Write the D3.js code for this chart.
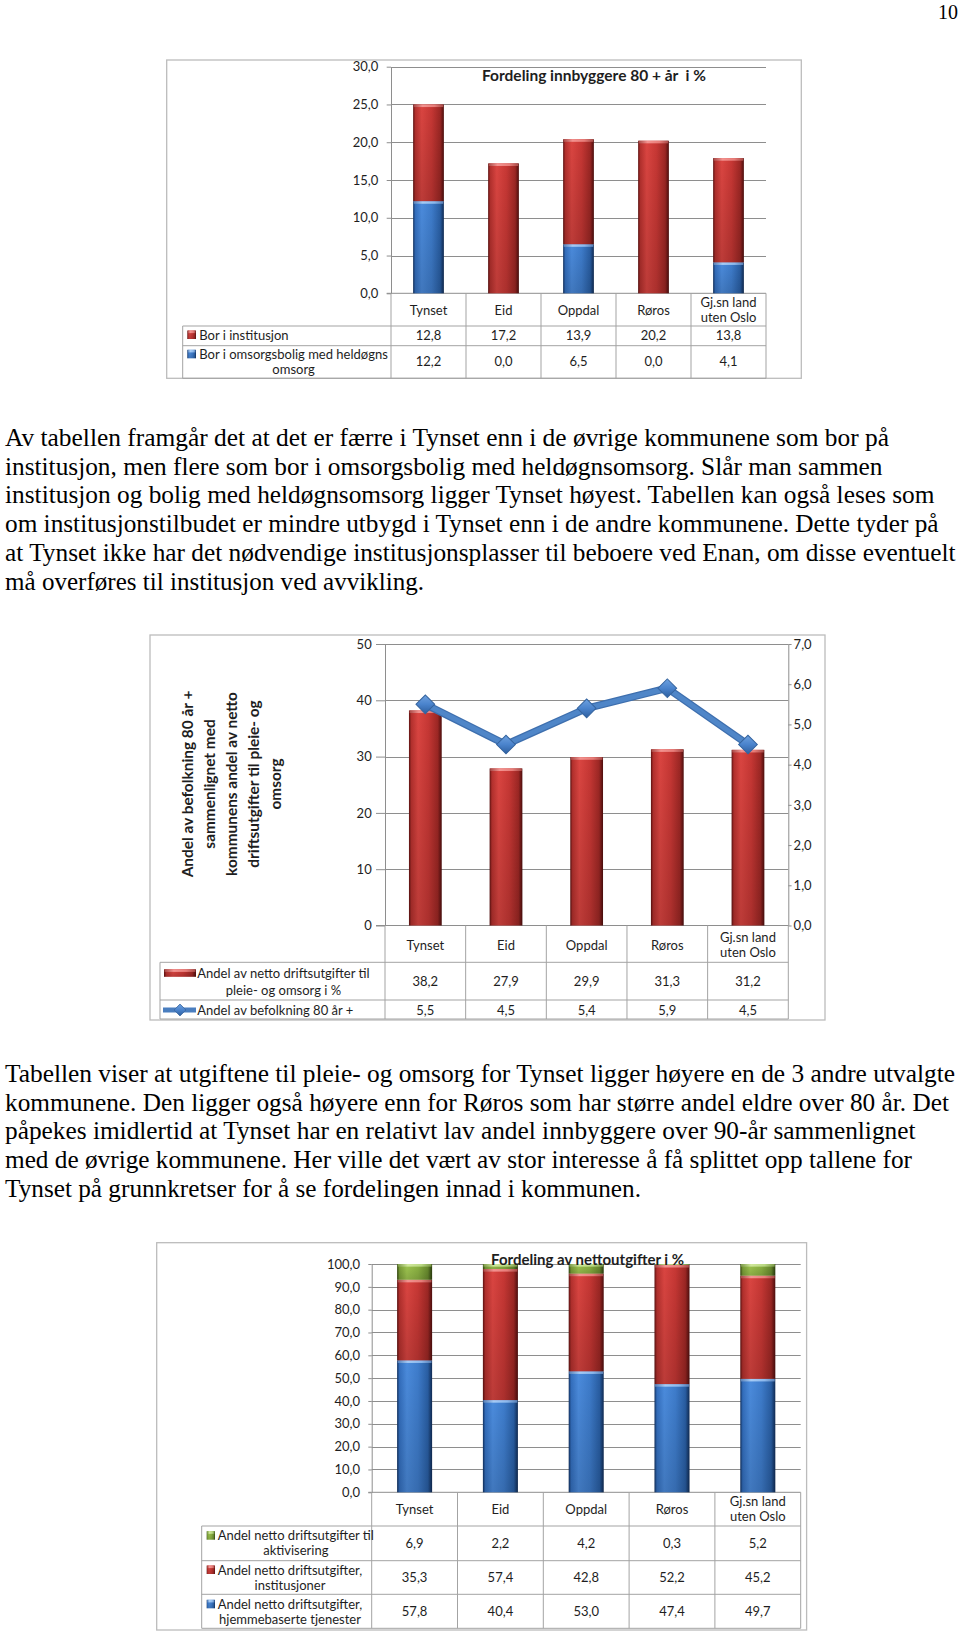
<!DOCTYPE html>
<html><head><meta charset="utf-8">
<script src="https://cdn.jsdelivr.net/npm/d3@7"></script>
<style>
html,body{margin:0;padding:0;background:#fff;}
svg{display:block;}
</style></head>
<body>
<svg id="page" width="960" height="1632"></svg>
<script>
// ================= DATA =================
const categories = ["Tynset","Eid","Oppdal","Røros","Gj.sn land uten Oslo"];
const categoryLabelLines = [["Tynset"],["Eid"],["Oppdal"],["Røros"],["Gj.sn land","uten Oslo"]];

// Chart 1
const c1Title = "Fordeling innbyggere 80 + år  i %";
const c1Institusjon = [12.8, 17.2, 13.9, 20.2, 13.8];
const c1Omsorgsbolig = [12.2, 0.0, 6.5, 0.0, 4.1];
const c1InstitusjonName = ["Bor i institusjon"];
const c1OmsorgsboligName = ["Bor i omsorgsbolig med heldøgns", "omsorg"];
const c1Ticks = [0, 5, 10, 15, 20, 25, 30];

// Chart 2
const c2Driftsutgifter = [38.2, 27.9, 29.9, 31.3, 31.2];
const c2Befolkning80 = [5.5, 4.5, 5.4, 5.9, 4.5];
const c2DriftsutgifterName = ["Andel av netto driftsutgifter til", "pleie- og omsorg i %"];
const c2Befolkning80Name = ["Andel av befolkning 80 år +"];
const c2LeftTicks = [0, 10, 20, 30, 40, 50];
const c2RightTicks = [0, 1, 2, 3, 4, 5, 6, 7];
const c2AxisTitle = ["Andel av befolkning 80 år +", "sammenlignet med", "kommunens andel av netto", "driftsutgifter til pleie- og", "omsorg"];

// Chart 3
const c3Title = "Fordeling av nettoutgifter i %";
const c3Aktivisering = [6.9, 2.2, 4.2, 0.3, 5.2];
const c3Institusjoner = [35.3, 57.4, 42.8, 52.2, 45.2];
const c3Hjemmebaserte = [57.8, 40.4, 53.0, 47.4, 49.7];
const c3AktiviseringName = ["Andel netto driftsutgifter til", "aktivisering"];
const c3InstitusjonerName = ["Andel netto driftsutgifter,", "institusjoner"];
const c3HjemmebaserteName = ["Andel netto driftsutgifter,", "hjemmebaserte tjenester"];
const c3Ticks = [0, 10, 20, 30, 40, 50, 60, 70, 80, 90, 100];

// Page text
const pageNumber = "10";
const para1 = [
  "Av tabellen framgår det at det er færre i Tynset enn i de øvrige kommunene som bor på",
  "institusjon, men flere som bor i omsorgsbolig med heldøgnsomsorg. Slår man sammen",
  "institusjon og bolig med heldøgnsomsorg ligger Tynset høyest. Tabellen kan også leses som",
  "om institusjonstilbudet er mindre utbygd i Tynset enn i de andre kommunene. Dette tyder på",
  "at Tynset ikke har det nødvendige institusjonsplasser til beboere ved Enan, om disse eventuelt",
  "må overføres til institusjon ved avvikling."
];
const para2 = [
  "Tabellen viser at utgiftene til pleie- og omsorg for Tynset ligger høyere en de 3 andre utvalgte",
  "kommunene. Den ligger også høyere enn for Røros som har større andel eldre over 80 år. Det",
  "påpekes imidlertid at Tynset har en relativt lav andel innbyggere over 90-år sammenlignet",
  "med de øvrige kommunene. Her ville det vært av stor interesse å få splittet opp tallene for",
  "Tynset på grunnkretser for å se fordelingen innad i kommunen."
];

// ================= LAYOUT =================
const para1Layout = {x: 5, y0: 446, dy: 28.7, ends: [889, 882.5, 934.5, 938.5, 955.5, 424]};
const para2Layout = {x: 5, y0: 1081.7, dy: 28.8, ends: [955, 949, 915.5, 912, 641]};

const FONT = "Lato, 'Open Sans', sans-serif";
const SERIF = "'Liberation Serif', 'Times New Roman', serif";
const FS = 13;
const TXT = "#1e1e1e";
const GRID = "#8e8e8e";
const TLINE = "#a3a3a3";
const FRAME = "#bcbcbc";

const nf = d3.formatLocale({decimal: ",", thousands: "\u00a0", grouping: [3], currency: ["", " kr"]});
const f1 = nf.format(".1f");
const f0 = nf.format("d");

const svg = d3.select("#page");
const defs = svg.append("defs");

function hGrad(id, stops) {
  const g = defs.append("linearGradient").attr("id", id).attr("x1", 0).attr("x2", 1).attr("y1", 0).attr("y2", 0);
  stops.forEach(([o, c]) => g.append("stop").attr("offset", o).attr("stop-color", c));
}
hGrad("gRed", [[0, "#5e1211"], [0.07, "#b3302d"], [0.28, "#da4541"], [0.6, "#c63734"], [0.88, "#9c2724"], [1, "#4e0e0d"]]);
hGrad("gRedCap", [[0, "#a84a47"], [0.3, "#f39390"], [0.7, "#e77d79"], [1, "#a84a47"]]);
hGrad("gBlue", [[0, "#123262"], [0.07, "#336ebd"], [0.28, "#4b8bdc"], [0.6, "#3e7ccb"], [0.88, "#295ea3"], [1, "#102b54"]]);
hGrad("gBlueCap", [[0, "#5a82b8"], [0.3, "#a6cbf5"], [0.7, "#8cb8ec"], [1, "#5a82b8"]]);
hGrad("gGreen", [[0, "#354a10"], [0.07, "#7b9f38"], [0.28, "#9fc650"], [0.6, "#8cb343"], [0.88, "#688a2e"], [1, "#2c3e0e"]]);
hGrad("gGreenCap", [[0, "#7c9a4a"], [0.3, "#cfe79a"], [0.7, "#b9d883"], [1, "#7c9a4a"]]);
(function () {
  const g = defs.append("linearGradient").attr("id", "gShade").attr("x1", 0).attr("x2", 0).attr("y1", 0).attr("y2", 1);
  g.append("stop").attr("offset", 0).attr("stop-color", "#000").attr("stop-opacity", 0);
  g.append("stop").attr("offset", 1).attr("stop-color", "#000").attr("stop-opacity", 0.14);
  const d = defs.append("linearGradient").attr("id", "gDiamond").attr("x1", 0).attr("x2", 1).attr("y1", 0).attr("y2", 1);
  d.append("stop").attr("offset", 0).attr("stop-color", "#6fa2e0");
  d.append("stop").attr("offset", 0.5).attr("stop-color", "#4a83cc");
  d.append("stop").attr("offset", 1).attr("stop-color", "#2e5f9f");
})();

const GRADS = {red: ["gRed", "gRedCap"], blue: ["gBlue", "gBlueCap"], green: ["gGreen", "gGreenCap"]};

function segment(g, x, w, yTop, yBot, color) {
  const h = yBot - yTop;
  if (h < 0.3) return;
  g.append("rect").attr("x", x).attr("y", yTop).attr("width", w).attr("height", h).attr("fill", `url(#${GRADS[color][0]})`);
  g.append("rect").attr("x", x).attr("y", yTop).attr("width", w).attr("height", h).attr("fill", "url(#gShade)");
  g.append("rect").attr("x", x + 0.6).attr("y", yTop).attr("width", w - 1.2).attr("height", Math.min(2.6, h)).attr("fill", `url(#${GRADS[color][1]})`);
}

function setupChart(cfg) {
  const g = svg.append("g");
  g.append("rect").attr("x", cfg.frame[0]).attr("y", cfg.frame[1]).attr("width", cfg.frame[2]).attr("height", cfg.frame[3])
    .attr("fill", "#fff").attr("stroke", FRAME).attr("stroke-width", 1.3);
  const xBand = d3.scaleBand().domain(categories).range([cfg.x0, cfg.x1]).paddingInner(cfg.pin).paddingOuter(cfg.pin / 2);
  const xCol = d3.scaleBand().domain(categories).range([cfg.x0, cfg.x1]);
  const y = d3.scaleLinear().domain([0, cfg.max]).range([cfg.y0, cfg.yTop]);
  g.append("g").selectAll("line").data(cfg.ticks.filter(t => t > 0)).join("line")
    .attr("x1", cfg.x0).attr("x2", cfg.x1)
    .attr("y1", d => Math.round(y(d)) + 0.5).attr("y2", d => Math.round(y(d)) + 0.5)
    .attr("stroke", GRID).attr("stroke-width", 1);
  const ax = g.append("g").attr("transform", `translate(${cfg.x0},0)`)
    .call(d3.axisLeft(y).tickValues(cfg.ticks).tickFormat(cfg.fmt).tickSizeInner(cfg.tickSize).tickSizeOuter(0).tickPadding(cfg.tickPad));
  ax.select(".domain").attr("stroke", GRID);
  ax.selectAll(".tick line").attr("stroke", GRID);
  ax.selectAll(".tick text").attr("font-family", FONT).attr("font-size", FS).attr("fill", TXT);
  g.append("line").attr("x1", cfg.x0 - cfg.tickSize).attr("x2", cfg.x1).attr("y1", cfg.y0).attr("y2", cfg.y0).attr("stroke", GRID);
  return {g, xBand, xCol, y};
}

function drawTable(g, cfg, xCol, rows) {
  const tg = g.append("g");
  const bw = xCol.bandwidth();
  const bounds = categories.map(c => xCol(c)).concat([cfg.x1]);
  const tBottom = cfg.rowBottoms[cfg.rowBottoms.length - 1];
  tg.selectAll("line.v").data(bounds).join("line").attr("class", "v")
    .attr("x1", d => d).attr("x2", d => d).attr("y1", cfg.y0).attr("y2", tBottom).attr("stroke", TLINE);
  tg.append("line").attr("x1", cfg.tLeft).attr("x2", cfg.tLeft).attr("y1", cfg.headerBottom).attr("y2", tBottom).attr("stroke", TLINE);
  tg.selectAll("line.h").data([cfg.headerBottom].concat(cfg.rowBottoms)).join("line").attr("class", "h")
    .attr("x1", cfg.tLeft).attr("x2", cfg.x1).attr("y1", d => d).attr("y2", d => d).attr("stroke", TLINE);
  categories.forEach((c, i) => {
    const lines = categoryLabelLines[i];
    lines.forEach((t, j) => {
      const yc = lines.length === 1 ? cfg.catY : cfg.catY + (j - (lines.length - 1) / 2) * 15;
      tg.append("text").attr("x", xCol(c) + bw / 2).attr("y", yc + 4.5).attr("text-anchor", "middle")
        .attr("font-family", FONT).attr("font-size", FS).attr("fill", TXT).text(t);
    });
  });
  rows.forEach(row => {
    const texts = row.lines.map((t, j) => tg.append("text").attr("x", cfg.textX).attr("y", row.lineYs[j] + 4.5)
      .attr("font-family", FONT).attr("font-size", FS).attr("fill", TXT).text(t));
    const maxW = d3.max(texts, t => t.node().getComputedTextLength());
    texts.forEach(t => t.attr("x", cfg.textX + maxW / 2).attr("text-anchor", "middle"));
    marker(tg, row.marker, cfg, row.lineYs[0]);
    categories.forEach((c, i) => {
      tg.append("text").attr("x", xCol(c) + bw / 2).attr("y", row.valueY + 4.5).attr("text-anchor", "middle")
        .attr("font-family", FONT).attr("font-size", FS).attr("fill", TXT).text(f1(row.values[i]));
    });
  });
}

function marker(g, type, cfg, yc) {
  if (type === "sqRed" || type === "sqBlue" || type === "sqGreen") {
    const col = {sqRed: "red", sqBlue: "blue", sqGreen: "green"}[type];
    segment(g, cfg.markX, cfg.markW, yc - 4.5, yc + 4, col);
  } else if (type === "barRed") {
    segment(g, cfg.markX, cfg.markW, yc - 4, yc + 3.5, "red");
  } else if (type === "lineBlue") {
    g.append("line").attr("x1", cfg.markX - 1).attr("x2", cfg.markX + cfg.markW).attr("y1", yc).attr("y2", yc)
      .attr("stroke", "#4a7ebf").attr("stroke-width", 5);
    const cx = cfg.markX + cfg.markW / 2;
    g.append("path").attr("d", d3.symbol(d3.symbolSquare, 70)()).attr("transform", `translate(${cx},${yc}) rotate(45)`)
      .attr("fill", "url(#gDiamond)").attr("stroke", "#3a679f").attr("stroke-width", 0.8);
  }
}

function title(g, text, cx, cy, size) {
  g.append("text").attr("x", cx).attr("y", cy + 5.5).attr("text-anchor", "middle").attr("font-family", FONT)
    .attr("font-weight", "bold").attr("font-size", size).attr("fill", TXT).style("white-space", "pre").text(text);
}

// ================= CHART 1 =================
(function () {
  const cfg = {frame: [166.7, 60, 634.6, 318.3], x0: 391, x1: 766, y0: 293.3, yTop: 66.7, max: 30, pin: 0.59,
    ticks: c1Ticks, fmt: f1, tickSize: 4.3, tickPad: 8.4,
    tLeft: 182.7, headerBottom: 326, rowBottoms: [345.7, 378.3], catY: 310, textX: 199.3, markX: 187.3, markW: 8.7};
  const {g, xBand, xCol, y} = setupChart(cfg);
  const rows = categories.map((c, i) => ({cat: c, omsorg: c1Omsorgsbolig[i], inst: c1Institusjon[i]}));
  const stack = d3.stack().keys(["omsorg", "inst"])(rows);
  const colors = ["blue", "red"];
  const bg = g.append("g");
  stack.forEach((layer, li) => layer.forEach(d => {
    segment(bg, xBand(d.data.cat), xBand.bandwidth(), y(Math.min(d[1], cfg.max)), y(d[0]), colors[li]);
  }));
  drawTable(g, cfg, xCol, [
    {lines: c1InstitusjonName, lineYs: [335], values: c1Institusjon, valueY: 335.5, marker: "sqRed"},
    {lines: c1OmsorgsboligName, lineYs: [354.3, 369.3], values: c1Omsorgsbolig, valueY: 361.7, marker: "sqBlue"}
  ]);
  title(g, c1Title, 594, 75, 15.5);
})();

// ================= CHART 2 =================
(function () {
  const cfg = {frame: [150, 635, 675, 385], x0: 385, x1: 788.3, y0: 925.5, yTop: 644, max: 50, pin: 0.594,
    ticks: c2LeftTicks, fmt: f0, tickSize: 9, tickPad: 4.3,
    tLeft: 160, headerBottom: 962.3, rowBottoms: [1000, 1019], catY: 945, textX: 197.3, markX: 164, markW: 32};
  const {g, xBand, xCol, y} = setupChart(cfg);
  const yR = d3.scaleLinear().domain([0, 7]).range([cfg.y0, cfg.yTop]);
  const axR = g.append("g").attr("transform", `translate(${cfg.x1},0)`)
    .call(d3.axisRight(yR).tickValues(c2RightTicks).tickFormat(f1).tickSizeInner(3.3).tickSizeOuter(0).tickPadding(2));
  axR.select(".domain").attr("stroke", GRID);
  axR.selectAll(".tick line").attr("stroke", GRID);
  axR.selectAll(".tick text").attr("font-family", FONT).attr("font-size", FS).attr("fill", TXT);

  const bg = g.append("g");
  categories.forEach((c, i) => segment(bg, xBand(c), xBand.bandwidth(), y(c2Driftsutgifter[i]), y(0), "red"));

  const pts = categories.map((c, i) => [xBand(c) + xBand.bandwidth() / 2, yR(c2Befolkning80[i])]);
  g.append("path").attr("d", d3.line()(pts)).attr("fill", "none").attr("stroke", "#3e6fae").attr("stroke-width", 7.5)
    .attr("stroke-linejoin", "round");
  g.append("path").attr("d", d3.line()(pts)).attr("fill", "none").attr("stroke", "#4f86c8").attr("stroke-width", 5)
    .attr("stroke-linejoin", "round");
  g.append("g").selectAll("path").data(pts).join("path")
    .attr("d", d3.symbol(d3.symbolSquare, 175)()).attr("transform", d => `translate(${d[0]},${d[1]}) rotate(45)`)
    .attr("fill", "url(#gDiamond)").attr("stroke", "#35649f").attr("stroke-width", 1);

  drawTable(g, cfg, xCol, [
    {lines: c2DriftsutgifterName, lineYs: [973.3, 990], values: c2Driftsutgifter, valueY: 981, marker: "barRed"},
    {lines: c2Befolkning80Name, lineYs: [1010], values: c2Befolkning80, valueY: 1010, marker: "lineBlue"}
  ]);

  const tg = g.append("g").attr("transform", "translate(0,784) rotate(-90)");
  const baseX = [192.5, 214.6, 236.7, 258.8, 280.9];
  c2AxisTitle.forEach((t, j) => tg.append("text").attr("x", 0).attr("y", baseX[j]).attr("text-anchor", "middle")
    .attr("font-family", FONT).attr("font-weight", "bold").attr("font-size", 15.4).attr("fill", TXT).text(t));
})();

// ================= CHART 3 =================
(function () {
  const cfg = {frame: [156.7, 1242.7, 649.9, 387.3], x0: 371.7, x1: 800.7, y0: 1492.3, yTop: 1264, max: 100, pin: 0.592,
    ticks: c3Ticks, fmt: f1, tickSize: 3.4, tickPad: 8.3,
    tLeft: 201.7, headerBottom: 1526, rowBottoms: [1560.7, 1594.3, 1628.3], catY: 1509.3, textX: 217.7, markX: 206.7, markW: 8.3};
  const {g, xBand, xCol, y} = setupChart(cfg);
  const rows = categories.map((c, i) => ({cat: c, hj: c3Hjemmebaserte[i], inst: c3Institusjoner[i], akt: c3Aktivisering[i]}));
  const stack = d3.stack().keys(["hj", "inst", "akt"])(rows);
  const colors = ["blue", "red", "green"];
  const bg = g.append("g");
  stack.forEach((layer, li) => layer.forEach(d => {
    segment(bg, xBand(d.data.cat), xBand.bandwidth(), y(Math.min(d[1], cfg.max)), y(Math.min(d[0], cfg.max)), colors[li]);
  }));
  drawTable(g, cfg, xCol, [
    {lines: c3AktiviseringName, lineYs: [1535.7, 1550.7], values: c3Aktivisering, valueY: 1543.3, marker: "sqGreen"},
    {lines: c3InstitusjonerName, lineYs: [1570, 1585], values: c3Institusjoner, valueY: 1577.7, marker: "sqRed"},
    {lines: c3HjemmebaserteName, lineYs: [1604.3, 1619], values: c3Hjemmebaserte, valueY: 1611.7, marker: "sqBlue"}
  ]);
  title(g, c3Title, 587.6, 1259, 15);
})();

// ================= PAGE TEXT =================
svg.append("text").attr("x", 958).attr("y", 19).attr("text-anchor", "end").attr("font-family", SERIF)
  .attr("font-size", 20).attr("fill", "#000").text(pageNumber);

function paragraph(lines, L) {
  const g = svg.append("g");
  lines.forEach((t, i) => {
    g.append("text").attr("x", L.x).attr("y", L.y0 + i * L.dy).attr("font-family", SERIF).attr("font-size", 25)
      .attr("fill", "#000").attr("textLength", L.ends[i] - L.x).attr("lengthAdjust", "spacingAndGlyphs").text(t);
  });
}
paragraph(para1, para1Layout);
paragraph(para2, para2Layout);
</script>
</body></html>
